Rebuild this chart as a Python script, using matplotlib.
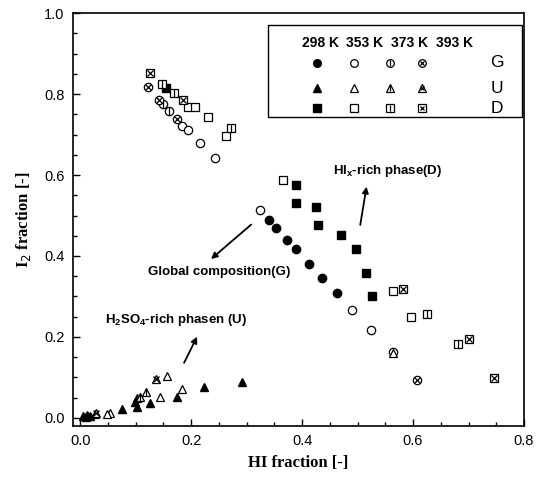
import matplotlib
matplotlib.use("Agg")
import matplotlib.pyplot as plt
from matplotlib.ticker import MultipleLocator
from matplotlib.patches import Rectangle

# ---- data (HI fraction, I2 fraction) ----
g298_x = [0.341, 0.353, 0.373, 0.389, 0.413, 0.436, 0.463]
g298_y = [0.489, 0.469, 0.440, 0.417, 0.380, 0.346, 0.309]
u298_x = [0.292, 0.223, 0.175, 0.126, 0.103, 0.099, 0.103, 0.076, 0.005, 0.012, 0.018, 0.010]
u298_y = [0.089, 0.076, 0.053, 0.036, 0.049, 0.040, 0.028, 0.021, 0.005, 0.008, 0.006, 0.002]
d298_x = [0.389, 0.389, 0.425, 0.429, 0.470, 0.497, 0.515, 0.526, 0.155]
d298_y = [0.575, 0.531, 0.521, 0.476, 0.452, 0.417, 0.358, 0.301, 0.815]

g353_x = [0.324, 0.490, 0.524, 0.564, 0.184, 0.194, 0.216, 0.243]
g353_y = [0.514, 0.267, 0.217, 0.163, 0.721, 0.711, 0.679, 0.642]
u353_x = [0.157, 0.184, 0.144, 0.054, 0.048, 0.027, 0.564]
u353_y = [0.104, 0.071, 0.053, 0.012, 0.011, 0.010, 0.160]
d353_x = [0.366, 0.564, 0.596, 0.195, 0.207, 0.231, 0.263]
d353_y = [0.588, 0.313, 0.249, 0.768, 0.768, 0.743, 0.696]

g373_x = [0.149, 0.160]
g373_y = [0.775, 0.758]
u373_x = [0.119, 0.107]
u373_y = [0.064, 0.052]
d373_x = [0.148, 0.169, 0.272, 0.625, 0.681]
d373_y = [0.825, 0.802, 0.716, 0.257, 0.183]

g393_x = [0.122, 0.142, 0.175, 0.607]
g393_y = [0.818, 0.785, 0.738, 0.094]
u393_x = [0.137, 0.029]
u393_y = [0.096, 0.012]
d393_x = [0.126, 0.186, 0.582, 0.701, 0.746]
d393_y = [0.852, 0.785, 0.318, 0.195, 0.099]

temps = ["298 K", "353 K", "373 K", "393 K"]
phases = ["G", "U", "D"]

fig = plt.figure(figsize=(5.43, 4.82), dpi=100)
ax = fig.add_axes([0.1344, 0.116, 0.8306, 0.857])

base = {"G": "o", "U": "^", "D": "s"}
MS = 6.0


def mark(ax, x, y, phase, temp, ms=MS, **kw):
    m = base[phase]
    if temp == 0:
        ax.plot(x, y, ls="none", marker=m, ms=ms, mfc="black", mec="black", mew=1.0, **kw)
        return
    ax.plot(x, y, ls="none", marker=m, ms=ms, mfc="white", mec="black", mew=0.9, **kw)
    if temp == 2:
        ax.plot(x, y, ls="none", marker="|", ms=ms * 0.85, mec="black", mew=0.9, **kw)
    elif temp == 3:
        ax.plot(x, y, ls="none", marker="x", ms=ms * 0.65, mec="black", mew=0.9, **kw)


series = {
    (0, "G"): (g298_x, g298_y), (0, "U"): (u298_x, u298_y), (0, "D"): (d298_x, d298_y),
    (1, "G"): (g353_x, g353_y), (1, "U"): (u353_x, u353_y), (1, "D"): (d353_x, d353_y),
    (2, "G"): (g373_x, g373_y), (2, "U"): (u373_x, u373_y), (2, "D"): (d373_x, d373_y),
    (3, "G"): (g393_x, g393_y), (3, "U"): (u393_x, u393_y), (3, "D"): (d393_x, d393_y),
}
for (t, p), (xs, ys) in series.items():
    mark(ax, xs, ys, p, t, zorder=3)

ax.set_xlim(-0.013, 0.8)
ax.set_ylim(-0.02, 1.0)
ax.xaxis.set_major_locator(MultipleLocator(0.2))
ax.xaxis.set_minor_locator(MultipleLocator(0.05))
ax.yaxis.set_major_locator(MultipleLocator(0.2))
ax.yaxis.set_minor_locator(MultipleLocator(0.05))
ax.tick_params(which="both", direction="in", top=False, right=False, width=1.0)
ax.tick_params(which="major", length=5, labelsize=10.5, pad=6)
ax.tick_params(which="minor", length=3)
for lab in ax.get_xticklabels() + ax.get_yticklabels():
    lab.set_family("Liberation Sans")
for s in ax.spines.values():
    s.set_linewidth(1.2)

ax.set_xlabel("HI fraction [-]", family="Liberation Serif", fontweight="bold", fontsize=12, labelpad=5)
ax.set_ylabel("I$_2$ fraction [-]", family="Liberation Serif", fontweight="bold", fontsize=12, labelpad=8)

# ---- legend box drawn manually (axes coords) ----
ax.add_patch(Rectangle((0.433, 0.748), 0.563, 0.223, transform=ax.transAxes,
                       fill=False, ec="black", lw=1.0, zorder=4))
col_x = [0.541, 0.623, 0.703, 0.774]
head_x = [0.548, 0.647, 0.747, 0.847]
row_y = {"G": 0.879, "U": 0.818, "D": 0.770}
for i, t in enumerate(temps):
    ax.text(head_x[i], 0.927, t, transform=ax.transAxes, ha="center", va="center",
            family="Liberation Sans", fontweight="bold", fontsize=10, zorder=5)
for p in phases:
    for i in range(4):
        mark(ax, [col_x[i]], [row_y[p]], p, i, ms=5.5, transform=ax.transAxes, zorder=5)
    ax.text(0.94, row_y[p], p, transform=ax.transAxes, ha="center", va="center",
            family="Liberation Sans", fontsize=12.5, zorder=5)

# ---- annotations ----
tb = dict(family="Liberation Sans", fontweight="bold", fontsize=9.5)
ax.text(0.250, 0.36, "Global composition(G)", ha="center", va="center", **tb)
ax.annotate("", xy=(0.232, 0.388), xytext=(0.312, 0.482),
            arrowprops=dict(arrowstyle="-|>", color="black", lw=1.3, mutation_scale=9))
ax.text(0.455, 0.610, "HI$_\\mathregular{x}$-rich phase(D)", ha="left", va="center", **tb)
ax.annotate("", xy=(0.517, 0.578), xytext=(0.504, 0.470),
            arrowprops=dict(arrowstyle="-|>", color="black", lw=1.3, mutation_scale=9))
ax.text(0.045, 0.242, "H$_\\mathregular{2}$SO$_\\mathregular{4}$-rich phasen (U)", ha="left", va="center", **tb)
ax.annotate("", xy=(0.213, 0.207), xytext=(0.185, 0.130),
            arrowprops=dict(arrowstyle="-|>", color="black", lw=1.3, mutation_scale=9))

fig.savefig("out.png", dpi=100)
